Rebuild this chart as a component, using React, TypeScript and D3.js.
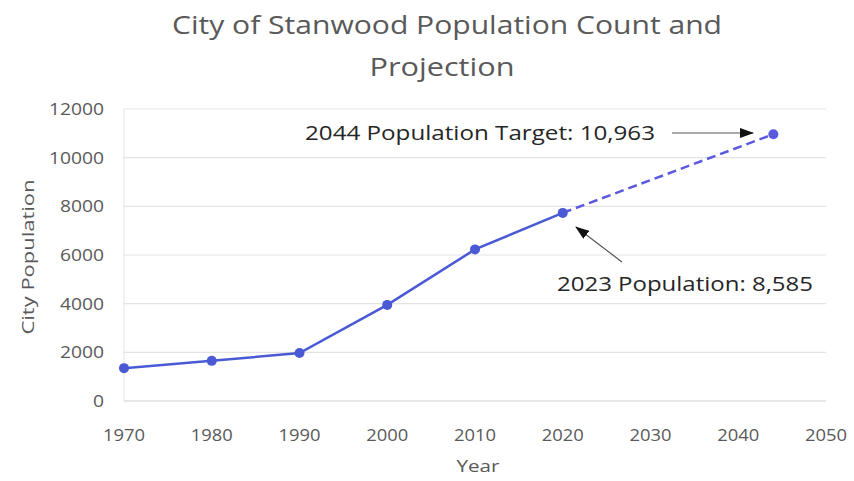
import React from "react";
import * as d3 from "d3";

const years = [1970, 1980, 1990, 2000, 2010, 2020];
const population = [1350, 1650, 1970, 3950, 6230, 7730];
const projYears = [2020, 2044];
const projPopulation = [7730, 10963];
const xTicks = [1970, 1980, 1990, 2000, 2010, 2020, 2030, 2040, 2050];
const yTicks = [0, 2000, 4000, 6000, 8000, 10000, 12000];
const titleLines = ["City of Stanwood Population Count and", "Projection"];
const targetLabel = "2044 Population Target: 10,963";
const currentLabel = "2023 Population: 8,585";

const W = 854, H = 481;
const font = "'Open Sans', 'Noto Sans', sans-serif";
const textCol = "#595959";
const lineCol = "#4a5ad4";
const projCol = "#5a5ae0";

export default function App() {
  const x = d3.scaleLinear().domain([1970, 2050]).range([124, 826]);
  const y = d3.scaleLinear().domain([0, 12000]).range([401, 109]);
  const line = d3.line<[number, number]>().x(d => x(d[0])).y(d => y(d[1]));
  const actual = years.map((yr, i) => [yr, population[i]] as [number, number]);
  const proj = projYears.map((yr, i) => [yr, projPopulation[i]] as [number, number]);
  const pts = [...actual, proj[1]];
  const fit = { lengthAdjust: "spacingAndGlyphs" as const };
  return (
    <svg width={W} height={H} style={{ position: "absolute", left: 0, top: 0, background: "#fff" }}>
      <defs>
        <marker id="ah" viewBox="0 0 14 10" refX="13" refY="5" markerWidth="14" markerHeight="10" markerUnits="userSpaceOnUse" orient="auto">
          <path d="M0,0 L14,5 L0,10 Z" fill="#111" />
        </marker>
      </defs>
      <rect width={W} height={H} fill="#fff" />
      <text x={447} y={34} textAnchor="middle" fontFamily={font} fontSize={26} fill={textCol} textLength={550} {...fit}>{titleLines[0]}</text>
      <text x={442} y={76} textAnchor="middle" fontFamily={font} fontSize={26} fill={textCol} textLength={145} {...fit}>{titleLines[1]}</text>
      {yTicks.map(t => (
        <g key={t}>
          {t > 0 && <line x1={124} x2={826} y1={y(t)} y2={y(t)} stroke="#e3e3e3" strokeWidth={1.2} />}
          <text x={104} y={y(t) + 6} textAnchor="end" fontFamily={font} fontSize={16} fill={textCol} textLength={String(t).length * 11} {...fit}>{t}</text>
        </g>
      ))}
      <line x1={124} x2={826} y1={y(0)} y2={y(0)} stroke="#cfcfcf" strokeWidth={1.2} />
      <line x1={124} x2={124} y1={y(0)} y2={y(12000)} stroke="#e3e3e3" strokeWidth={1} />
      {xTicks.map(t => (
        <text key={t} x={x(t)} y={441} textAnchor="middle" fontFamily={font} fontSize={16} fill={textCol} textLength={42} {...fit}>{t}</text>
      ))}
      <text x={478} y={472} textAnchor="middle" fontFamily={font} fontSize={17} fill={textCol} textLength={43} {...fit}>Year</text>
      <text transform={`translate(34,${257}) rotate(-90)`} textAnchor="middle" fontFamily={font} fontSize={17} fill={textCol} textLength={155} {...fit}>City Population</text>
      <path d={line(actual) || ""} fill="none" stroke={lineCol} strokeWidth={2.5} />
      <path d={line(proj) || ""} fill="none" stroke={projCol} strokeWidth={2.5} strokeDasharray="9,5" />
      {pts.map((p, i) => (
        <circle key={i} cx={x(p[0])} cy={y(p[1])} r={5} fill={i === pts.length - 1 ? projCol : lineCol} />
      ))}
      <text x={305} y={140} fontFamily={font} fontSize={20} fill="#262626" textLength={350} {...fit}>{targetLabel}</text>
      <line x1={672} x2={753} y1={133} y2={133} stroke="#555" strokeWidth={1.2} markerEnd="url(#ah)" />
      <text x={557} y={291} fontFamily={font} fontSize={20} fill="#262626" textLength={256} {...fit}>{currentLabel}</text>
      <line x1={622} x2={576} y1={262} y2={227} stroke="#555" strokeWidth={1.2} markerEnd="url(#ah)" />
    </svg>
  );
}
